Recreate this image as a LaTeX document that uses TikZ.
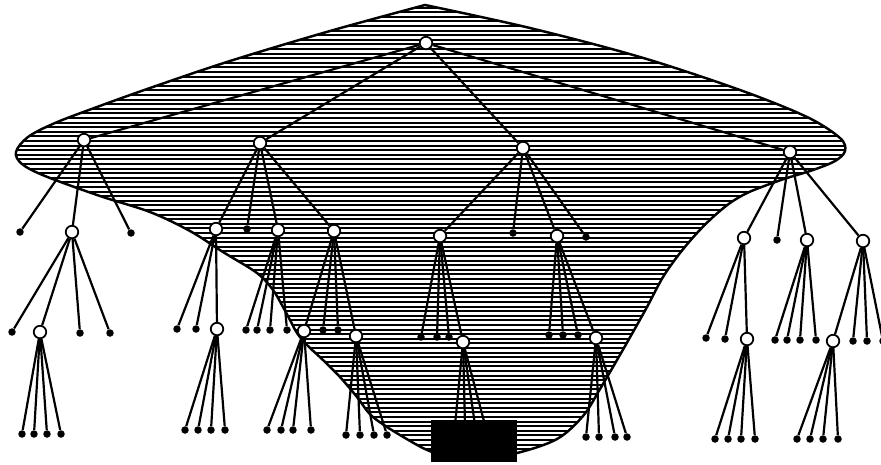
\documentclass[tikz,border=0pt]{standalone}

% outline of the hatched region (pixel units, y downwards)
\newcommand{\blobpath}{plot[smooth, tension=0.55] coordinates {
    (425,5) (330,31) (230,61) (150,88) (97,107) (55,123) (28,137) (16,152)
    (22,164) (45,176) (100,196) (150,212) (190,231) (223,252) (257,273)
    (273,290) (283,307) (290,320) (297,333) (307,345) (323,360) (340,377)
    (357,397) (373,417) (405,438) (435,453) (474,460) (517,453) (557,439)
    (583,416) (600,389) (617,360) (633,332) (647,307) (663,277) (680,253)
    (697,233) (713,217) (730,203) (747,193) (767,185) (787,178) (813,170)
    (835,161) (845,151) (840,138) (807,117) (740,90) (640,57) (530,28)
    (425,5)} -- cycle}

\begin{document}
\begin{tikzpicture}[
    x=0.02cm, y=-0.02cm,
    branch/.style={
        draw, circle, fill=white, line width=1pt,
        minimum size=0.25cm, inner sep=0pt
    },
    leaf/.style={
        circle, fill=black, minimum size=0.15cm, inner sep=0pt
    },
    blackbox/.style={
        fill=black, minimum width=1.72cm, minimum height=0.84cm, inner sep=0pt
    },
    link/.style={line width=1.25pt},
    hatch/.style={line width=1.2pt},
    rim/.style={line width=1.4pt}
]

\useasboundingbox (0,0) rectangle (881,464);

% Hatched region
\begin{scope}
    \clip \blobpath;
    \foreach \y in {3,7.6,...,464}
        \draw[hatch] (0,\y) -- (881,\y);
\end{scope}
\draw[rim] \blobpath;

% Root and first level
\node[branch] (root) at (426,43)  {};
\node[branch] (a)    at (84,140)  {};
\node[branch] (b)    at (260,143) {};
\node[branch] (c)    at (523,148) {};
\node[branch] (d)    at (790,152) {};
\foreach \n in {a,b,c,d}
    \draw[link] (root) -- (\n);

% Subtree a
\node[leaf]   (a1) at (20,232)  {};
\node[branch] (a2) at (72,232)  {};
\node[leaf]   (a3) at (131,233) {};
\foreach \n in {a1,a2,a3}
    \draw[link] (a) -- (\n);
\node[leaf]   (a21) at (12,332)  {};
\node[branch] (a22) at (40,332)  {};
\node[leaf]   (a23) at (80,333)  {};
\node[leaf]   (a24) at (110,333) {};
\foreach \n in {a21,a22,a23,a24}
    \draw[link] (a2) -- (\n);
\foreach \x [count=\i] in {22,34,47,61} {
    \node[leaf] (a22\i) at (\x,434) {};
    \draw[link] (a22) -- (a22\i);
}

% Subtree b
\node[branch] (b1) at (216,229) {};
\node[leaf]   (b2) at (247,229) {};
\node[branch] (b3) at (278,230) {};
\node[branch] (b4) at (334,231) {};
\foreach \n in {b1,b2,b3,b4}
    \draw[link] (b) -- (\n);
\node[leaf]   (b11) at (177,329) {};
\node[leaf]   (b12) at (196,329) {};
\node[branch] (b13) at (217,329) {};
\foreach \n in {b11,b12,b13}
    \draw[link] (b1) -- (\n);
\foreach \x [count=\i] in {185,198,211,225} {
    \node[leaf] (b13\i) at (\x,430) {};
    \draw[link] (b13) -- (b13\i);
}
\foreach \x [count=\i] in {246,257,270,287} {
    \node[leaf] (b3\i) at (\x,330) {};
    \draw[link] (b3) -- (b3\i);
}
\node[branch] (b41) at (304,331) {};
\node[leaf]   (b42) at (323,330) {};
\node[leaf]   (b43) at (338,330) {};
\node[branch] (b44) at (356,336) {};
\foreach \n in {b41,b42,b43,b44}
    \draw[link] (b4) -- (\n);
\foreach \x [count=\i] in {267,281,293,311} {
    \node[leaf] (b41\i) at (\x,430) {};
    \draw[link] (b41) -- (b41\i);
}
\foreach \x [count=\i] in {346,360,374,387} {
    \node[leaf] (b44\i) at (\x,435) {};
    \draw[link] (b44) -- (b44\i);
}

% Subtree c
\node[branch] (c1) at (440,236) {};
\node[leaf]   (c2) at (513,233) {};
\node[branch] (c3) at (557,236) {};
\node[leaf]   (c4) at (586,237) {};
\foreach \n in {c1,c2,c3,c4}
    \draw[link] (c) -- (\n);
\node[leaf]   (c11) at (421,337) {};
\node[leaf]   (c12) at (437,337) {};
\node[leaf]   (c13) at (449,337) {};
\node[branch] (c14) at (463,342) {};
\foreach \n in {c11,c12,c13,c14}
    \draw[link] (c1) -- (\n);
\foreach \x [count=\i] in {455,465,475,485} {
    \coordinate (c14\i) at (\x,425);
    \draw[link] (c14) -- (c14\i);
}
\node[leaf]   (c31) at (549,335) {};
\node[leaf]   (c32) at (563,335) {};
\node[leaf]   (c33) at (578,335) {};
\node[branch] (c34) at (596,338) {};
\foreach \n in {c31,c32,c33,c34}
    \draw[link] (c3) -- (\n);
\foreach \x [count=\i] in {586,599,615,627} {
    \node[leaf] (c34\i) at (\x,437) {};
    \draw[link] (c34) -- (c34\i);
}

% Black block at the bottom
\node[blackbox] (sink) at (474,441) {};

% Subtree d
\node[branch] (d1) at (744,238) {};
\node[leaf]   (d2) at (777,240) {};
\node[branch] (d3) at (807,240) {};
\node[branch] (d4) at (863,241) {};
\foreach \n in {d1,d2,d3,d4}
    \draw[link] (d) -- (\n);
\node[leaf]   (d11) at (706,338) {};
\node[leaf]   (d12) at (725,339) {};
\node[branch] (d13) at (747,339) {};
\foreach \n in {d11,d12,d13}
    \draw[link] (d1) -- (\n);
\foreach \x [count=\i] in {715,728,741,755} {
    \node[leaf] (d13\i) at (\x,439) {};
    \draw[link] (d13) -- (d13\i);
}
\foreach \x [count=\i] in {775,787,800,816} {
    \node[leaf] (d3\i) at (\x,340) {};
    \draw[link] (d3) -- (d3\i);
}
\node[branch] (d41) at (833,341) {};
\node[leaf]   (d42) at (853,341) {};
\node[leaf]   (d43) at (867,341) {};
\node[leaf]   (d44) at (883,341) {};
\foreach \n in {d41,d42,d43,d44}
    \draw[link] (d4) -- (\n);
\foreach \x [count=\i] in {797,810,823,838} {
    \node[leaf] (d41\i) at (\x,439) {};
    \draw[link] (d41) -- (d41\i);
}

\end{tikzpicture}
\end{document}
